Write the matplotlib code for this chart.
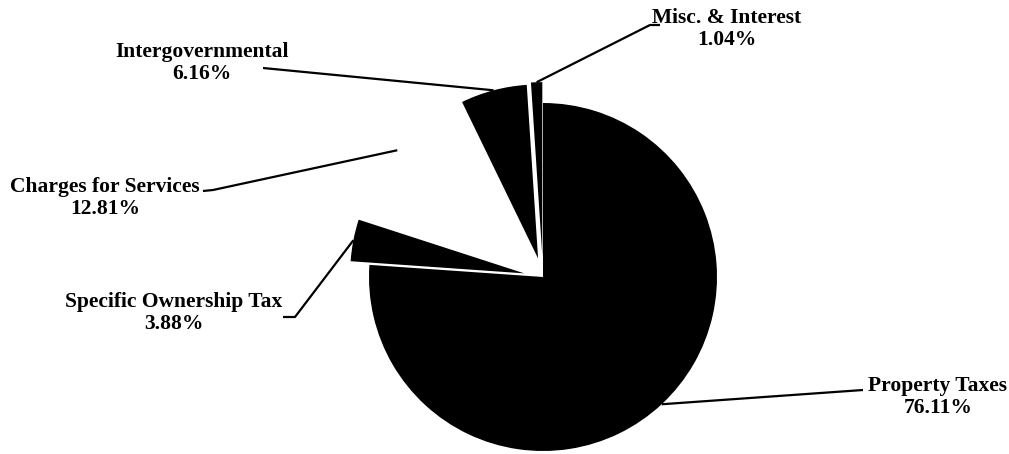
import numpy as np
import matplotlib
matplotlib.use("Agg")
import matplotlib.pyplot as plt

# ---- data ----
categories = ["Property Taxes", "Specific Ownership Tax", "Charges for Services",
              "Intergovernmental", "Misc. & Interest"]
values = [76.11, 3.88, 12.81, 6.16, 1.04]
pct_labels = ["76.11%", "3.88%", "12.81%", "6.16%", "1.04%"]
colors = ["black", "black", "white", "black", "black"]
explode_frac = [0.0, 0.11, 0.11, 0.11, 0.12]

W, H = 1009, 454
fig = plt.figure(figsize=(W / 100, H / 100), dpi=100)
ax = fig.add_axes([0, 0, 1, 1])
ax.set_xlim(0, W)
ax.set_ylim(0, H)
ax.set_aspect("equal")
ax.axis("off")

cx, cy, r = 543, H - 277, 174
# matplotlib's explode is in data units, so scale by the radius
wedges, _ = ax.pie(values, colors=colors, explode=[e * r for e in explode_frac],
                   startangle=90, counterclock=False, center=(cx, cy), radius=r,
                   wedgeprops=dict(linewidth=0))
ax.set_xlim(0, W)
ax.set_ylim(0, H)

font = dict(family=["Liberation Serif", "DejaVu Serif"], fontweight="bold",
            fontsize=15.5, color="black")

# label layout (pixel coords, y from top): text center, leader path points
layout = {
    "Property Taxes": dict(text=(938, 397), path=[(863, 390)]),
    "Misc. & Interest": dict(text=(727, 29), path=[(650, 25), (660, 25)]),
    "Intergovernmental": dict(text=(202, 63), path=[(263, 68)]),
    "Charges for Services": dict(text=(105, 198), path=[(213, 190), (203, 191)]),
    "Specific Ownership Tax": dict(text=(174, 313), path=[(295, 317), (283, 317)]),
}

for w, cat, pct in zip(wedges, categories, pct_labels):
    th = np.deg2rad((w.theta1 + w.theta2) / 2)
    sx = w.center[0] + w.r * np.cos(th)
    sy = w.center[1] + w.r * np.sin(th)
    L = layout[cat]
    xs = [sx] + [p[0] for p in L["path"]]
    ys = [sy] + [H - p[1] for p in L["path"]]
    ax.plot(xs, ys, color="black", lw=1.6, solid_capstyle="butt")
    tx, ty = L["text"]
    ax.text(tx, H - ty, f"{cat}\n{pct}", ha="center", va="center",
            multialignment="center", linespacing=1.1, **font)

fig.savefig("out.png", dpi=100, facecolor="white")
